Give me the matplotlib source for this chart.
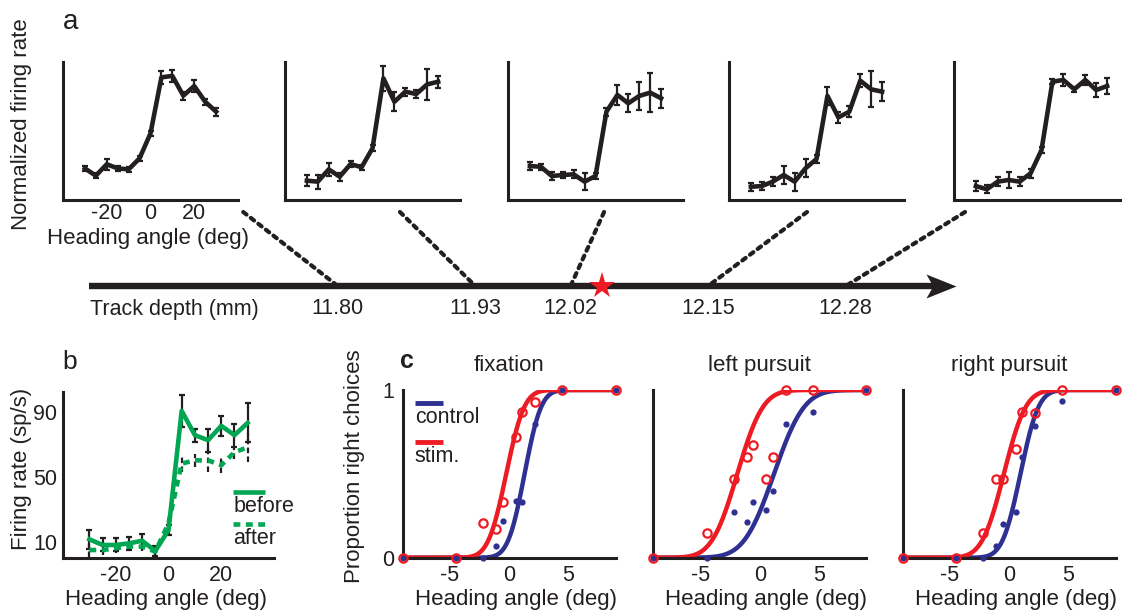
import math
import numpy as np
import matplotlib
matplotlib.use('Agg')
import matplotlib.pyplot as plt
from matplotlib.patches import ConnectionPatch
from matplotlib.path import Path

plt.rcParams['font.family'] = ['Liberation Sans', 'DejaVu Sans']
plt.rcParams['axes.unicode_minus'] = False
plt.rcParams['text.color'] = '#231f20'
plt.rcParams['axes.labelcolor'] = '#231f20'
plt.rcParams['xtick.color'] = '#231f20'
plt.rcParams['ytick.color'] = '#231f20'

BLACK = '#231f20'
GREEN = '#00a651'
BLUE = '#2e3192'
RED = '#ed1c24'

# ---- panel a: tuning curves along the electrode track
a_headings = [-30, -25, -20, -15, -10, -5, 0, 5, 10, 15, 20, 25, 30]
a_rate_1 = [0.229, 0.176, 0.259, 0.229, 0.222, 0.302, 0.483, 0.889, 0.899, 0.756, 0.826, 0.712, 0.640]
a_err_1 = [0.02, 0.02, 0.04, 0.02, 0.02, 0.02, 0.02, 0.045, 0.045, 0.03, 0.045, 0.02, 0.03]
a_rate_2 = [0.140, 0.133, 0.222, 0.169, 0.261, 0.237, 0.375, 0.882, 0.712, 0.785, 0.768, 0.838, 0.857]
a_err_2 = [0.04, 0.05, 0.045, 0.03, 0.02, 0.02, 0.02, 0.09, 0.07, 0.03, 0.03, 0.11, 0.045]
a_rate_3 = [0.246, 0.241, 0.174, 0.181, 0.186, 0.133, 0.174, 0.640, 0.761, 0.701, 0.754, 0.778, 0.737]
a_err_3 = [0.03, 0.02, 0.03, 0.02, 0.03, 0.06, 0.02, 0.03, 0.07, 0.065, 0.1, 0.14, 0.07]
a_rate_4 = [0.096, 0.101, 0.133, 0.181, 0.133, 0.230, 0.297, 0.754, 0.599, 0.640, 0.865, 0.802, 0.785]
a_err_4 = [0.03, 0.03, 0.035, 0.065, 0.065, 0.065, 0.03, 0.065, 0.04, 0.04, 0.045, 0.13, 0.07]
a_rate_5 = [0.101, 0.078, 0.133, 0.145, 0.133, 0.193, 0.362, 0.857, 0.870, 0.802, 0.870, 0.797, 0.826]
a_err_5 = [0.035, 0.03, 0.035, 0.06, 0.035, 0.035, 0.02, 0.02, 0.045, 0.02, 0.035, 0.05, 0.06]

track_depths = [11.80, 11.93, 12.02, 12.15, 12.28]
stim_depth = 12.05

# ---- panel b: firing rate before / after stimulation
b_headings = [-30, -25, -20, -15, -10, -5, 0, 5, 10, 15, 20, 25, 30]
b_before = [11.5, 8, 8, 9, 10.6, 4.3, 17.2, 90.4, 75.5, 72.4, 81.2, 75.5, 83]
b_before_err = [6, 4, 4, 4, 4, 3, 3, 10, 4, 7, 6, 7, 12]
b_after = [4.9, 4.9, 6, 7, 7, 3.9, 21.3, 58, 60, 60, 57, 65, 68]
b_after_err = [4, 3, 3, 3, 3, 2, 3, 5, 4, 7, 5, 4, 9]

# ---- panel c: psychometric data
c_headings = [-9, -4.5, -2.2, -1.1, -0.56, 0.56, 1.1, 2.2, 4.5, 9]
c_titles = ['fixation', 'left pursuit', 'right pursuit']
c_control = [
    [0, 0, 0, 0.07, 0.22, 0.34, 0.33, 0.80, 1, 1],
    [0, 0, 0.27, 0.215, 0.33, 0.285, 0.40, 0.80, 0.867, 1],
    [0, 0, 0, 0.07, 0.20, 0.27, 0.60, 0.785, 0.936, 1],
]
c_stim = [
    [0, 0, 0.205, 0.17, 0.33, 0.72, 0.87, 0.93, 1, 1],
    [0, 0.145, 0.47, 0.60, 0.67, 0.47, 0.60, 1.0, 1, 1],
    [0, 0, 0.145, 0.47, 0.47, 0.646, 0.87, 0.86, 1, 1],
]
# cumulative Gaussian fits (mean, sigma)
c_fit_control = [(1.3, 1.1), (1.2, 2.0), (0.95, 1.2)]
c_fit_stim = [(-0.25, 1.2), (-1.9, 1.7), (-0.45, 1.45)]

W, H = 1122, 612
fig = plt.figure(figsize=(W / 100, H / 100), dpi=100)


def rect(l, t, r, b):
    return [l / W, 1 - b / H, (r - l) / W, (b - t) / H]


def style(ax, lw=2.2):
    ax.spines[['top', 'right']].set_visible(False)
    ax.spines[['left', 'bottom']].set_linewidth(lw)
    ax.spines[['left', 'bottom']].set_color(BLACK)
    ax.tick_params(length=0, labelsize=15.5)
    ax.patch.set_alpha(0)


def cum_gauss(x, mu, sd):
    return np.array([0.5 * (1 + math.erf((v - mu) / (sd * math.sqrt(2)))) for v in x])


# ---------------- panel a
a_rates = [a_rate_1, a_rate_2, a_rate_3, a_rate_4, a_rate_5]
a_errs = [a_err_1, a_err_2, a_err_3, a_err_4, a_err_5]
a_lefts = [63, 285, 508, 729, 954]
conn_start = [1.03, 0.657, 0.549, 0.446, 0.063]
a_axes = []
for i, (rate, err) in enumerate(zip(a_rates, a_errs)):
    ax = fig.add_axes(rect(a_lefts[i], 62, a_lefts[i] + 175, 200))
    style(ax)
    ax.errorbar(a_headings, rate, yerr=err, color=BLACK, lw=3.3, elinewidth=1.6,
                capsize=2, capthick=1.6)
    ax.set_xlim(-40, 40)
    ax.set_ylim(0, 1)
    ax.set_yticks([])
    if i == 0:
        ax.set_xticks([-20, 0, 20])
        ax.tick_params(axis='x', pad=2)
        ax.set_xlabel('Heading angle (deg)', fontsize=16)
        ax.xaxis.set_label_coords(0.487, -0.2)
        ax.set_ylabel('Normalized firing rate', fontsize=16)
        ax.yaxis.set_label_coords(-0.177, 0.55)
    else:
        ax.set_xticks([])
    a_axes.append(ax)

fig.text(63 / W, 1 - 29 / H, 'a', fontsize=20, va='baseline', ha='left')

# track
track = fig.add_axes(rect(89, 226, 941, 286))
track.set_xlim(11.565, 12.37)
track.set_ylim(0, 1)
for s in track.spines.values():
    s.set_visible(False)
track.patch.set_alpha(0)
track.set_yticks([])
track.set_xticks(track_depths, labels=[f'{d:.2f}' for d in track_depths])
track.tick_params(axis='x', length=0, pad=9, labelsize=15.5)
track.axhline(0, color=BLACK, lw=4.6, solid_capstyle='butt', clip_on=False)
arrow = Path([(1, 0), (-1, 0.8), (-0.55, 0), (-1, -0.8), (1, 0)],
             [Path.MOVETO, Path.LINETO, Path.LINETO, Path.LINETO, Path.CLOSEPOLY])
track.plot([1], [0], marker=arrow, ms=21.6, color=BLACK, mec=BLACK, mew=0,
           transform=track.get_yaxis_transform(), clip_on=False)
track.plot([stim_depth], [0], marker='*', ms=20, color=RED, mec=RED, mew=0,
           clip_on=False, zorder=5)
track.annotate('Track depth (mm)', xy=(0, 0), xycoords='axes fraction',
               xytext=(1, -9), textcoords='offset points', va='top', ha='left',
               fontsize=15.5)

for ax, sx, d in zip(a_axes, conn_start, track_depths):
    con = ConnectionPatch(xyA=(sx, -0.087), coordsA=ax.transAxes,
                          xyB=(d, 0), coordsB=track.transData,
                          color=BLACK, lw=3, linestyle=(0, (1, 1.3)))
    fig.add_artist(con)

# ---------------- panel b
axb = fig.add_axes(rect(63, 392, 274, 558))
style(axb)
axb.errorbar(b_headings, b_before, yerr=b_before_err, fmt='none', ecolor=BLACK,
             elinewidth=1.6, capsize=2, capthick=1.6)
eb = axb.errorbar(b_headings, b_after, yerr=b_after_err, fmt='none', ecolor=BLACK,
                  elinewidth=1.6, capsize=0)
eb[2][0].set_linestyle((0, (2.5, 1.5)))
axb.plot(b_headings, b_before, color=GREEN, lw=3.3)
axb.plot(b_headings, b_after, color=GREEN, lw=3.3, linestyle=(0, (1.5, 1.2)))
axb.set_xlim(-40, 40)
axb.set_ylim(0, 102)
axb.set_xticks([-20, 0, 20])
axb.set_yticks([10, 50, 90])
axb.tick_params(axis='x', pad=5)
axb.tick_params(axis='y', pad=4)
axb.set_xlabel('Heading angle (deg)', fontsize=16)
axb.xaxis.set_label_coords(0.488, -0.185)
axb.set_ylabel('Firing rate (sp/s)', fontsize=16)
axb.yaxis.set_label_coords(-0.147, 0.539)
axb.plot([0.806, 0.957], [0.40, 0.40], color=GREEN, lw=3.3, transform=axb.transAxes,
         solid_capstyle='butt')
axb.text(0.806, 0.313, 'before', transform=axb.transAxes, fontsize=15.5,
         va='center', ha='left')
axb.plot([0.806, 0.957], [0.205, 0.205], color=GREEN, lw=3.3,
         linestyle=(0, (1.5, 1.2)), transform=axb.transAxes)
axb.text(0.806, 0.12, 'after', transform=axb.transAxes, fontsize=15.5,
         va='center', ha='left')
fig.text(62 / W, 1 - 369 / H, 'b', fontsize=19, va='baseline', ha='left')

# ---------------- panel c
c_lefts = [402.7, 653.3, 902.7]
xs = np.linspace(-9, 9, 400)
for i in range(3):
    ax = fig.add_axes(rect(c_lefts[i], 390, c_lefts[i] + 213, 557.7))
    style(ax)
    ax.plot(xs, cum_gauss(xs, *c_fit_control[i]), color=BLUE, lw=3.2)
    ax.plot(xs, cum_gauss(xs, *c_fit_stim[i]), color=RED, lw=3.2)
    ax.plot(c_headings, c_control[i], 'o', ms=4.5, color=BLUE, mew=0,
            clip_on=False, zorder=4)
    ax.plot(c_headings, c_stim[i], 'o', ms=6, mfc='none', mec=RED, mew=1.6,
            clip_on=False, zorder=5)
    ax.set_xlim(-9, 9)
    ax.set_ylim(0, 1)
    ax.set_xticks([-5, 0, 5])
    ax.tick_params(axis='x', pad=5)
    ax.set_title(c_titles[i], fontsize=16, pad=14)
    ax.set_xlabel('Heading angle (deg)', fontsize=16)
    ax.xaxis.set_label_coords(0.53, -0.185)
    if i == 0:
        ax.set_yticks([0, 1])
        ax.tick_params(axis='y', pad=6)
        ax.set_ylabel('Proportion right choices', fontsize=16)
        ax.yaxis.set_label_coords(-0.176, 0.543)
        ax.plot([0.057, 0.188], [0.924, 0.924], color=BLUE, lw=3.5,
                transform=ax.transAxes, solid_capstyle='butt')
        ax.text(0.057, 0.835, 'control', transform=ax.transAxes, fontsize=15.5,
                va='center', ha='left')
        ax.plot([0.057, 0.188], [0.692, 0.692], color=RED, lw=3.5,
                transform=ax.transAxes, solid_capstyle='butt')
        ax.text(0.057, 0.602, 'stim.', transform=ax.transAxes, fontsize=15.5,
                va='center', ha='left')
    else:
        ax.set_yticks([])

fig.text(400 / W, 1 - 368 / H, 'c', fontsize=18, fontweight='bold',
         va='baseline', ha='left')

fig.savefig('out.png', dpi=100)
